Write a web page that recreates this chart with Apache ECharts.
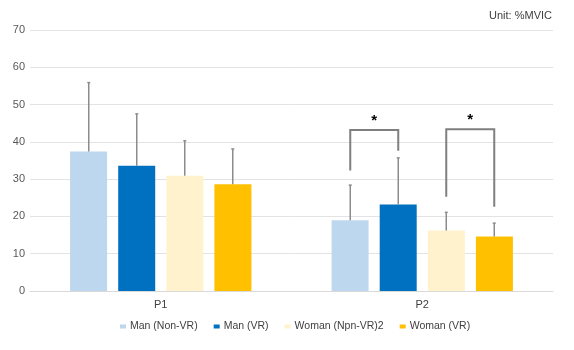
<!DOCTYPE html>
<html>
<head>
<meta charset="utf-8">
<script src="https://cdn.jsdelivr.net/npm/echarts@6/dist/echarts.min.js"></script>
<style>
  html, body { margin: 0; padding: 0; background: #fff; }
  #main { width: 574px; height: 350px; }
</style>
</head>
<body>
<div id="main"></div>
<script>
// data
var categories = ['P1', 'P2'];
var seriesNames = ['Man (Non-VR)', 'Man (VR)', 'Woman (Npn-VR)2', 'Woman (VR)'];
var manNonVR = [37.4, 19.0];
var manVR = [33.6, 23.2];
var womanNonVR = [30.9, 16.2];
var womanVR = [28.6, 14.6];
// upper error (SD)
var errManNonVR = [18.5, 9.4];
var errManVR = [13.9, 12.5];
var errWomanNonVR = [9.4, 4.9];
var errWomanVR = [9.5, 3.6];
// significance brackets: [category, left series, right series, left leg end, right leg end, top]
var brackets = [
  [1, 0, 1, 32.3, 37.6, 43.2],
  [1, 2, 3, 25.3, 22.6, 43.4]
];
var yTicks = { min: 0, max: 70, interval: 10 };

var colors = ['#BDD7EE', '#0070C0', '#FFF2CC', '#FFC000'];
var values = [manNonVR, manVR, womanNonVR, womanVR];
var errs = [errManNonVR, errManVR, errWomanNonVR, errWomanVR];

var BAR_W = 37;
var STEP = 48; // bar width + gap
function offsetOf(s) { return (s - 1.5) * STEP; }

var errData = [];
values.forEach(function (arr, s) {
  arr.forEach(function (v, c) { errData.push([c, v, v + errs[s][c], s]); });
});

var barSeries = seriesNames.map(function (name, i) {
  return {
    name: name,
    type: 'bar',
    data: values[i],
    barWidth: BAR_W,
    barGap: '30%',
    itemStyle: { color: colors[i] },
    silent: true
  };
});

var myChart = echarts.init(document.getElementById('main'));
myChart.setOption({
  animation: false,
  color: colors,
  textStyle: { fontFamily: 'Liberation Sans, Arial, sans-serif' },
  grid: { left: 30, right: 21, top: 30, bottom: 59 },
  graphic: [{
    type: 'text', right: 22, top: 10,
    style: { text: 'Unit: %MVIC', fill: '#404040', font: '11px Liberation Sans, Arial, sans-serif' }
  }],
  legend: {
    data: seriesNames,
    left: 115, top: 316,
    itemWidth: 6, itemHeight: 4, itemGap: 16,
    icon: 'rect',
    textStyle: { color: '#404040', fontSize: 10.5, padding: [0, 0, 0, -1] }
  },
  xAxis: {
    type: 'category',
    data: categories,
    axisLine: { lineStyle: { color: '#d9d9d9' } },
    axisTick: { show: false },
    axisLabel: { color: '#404040', fontSize: 11, margin: 8 }
  },
  yAxis: {
    type: 'value',
    min: yTicks.min, max: yTicks.max, interval: yTicks.interval,
    axisLine: { show: false },
    axisTick: { show: false },
    axisLabel: { color: '#595959', fontSize: 11, margin: 5 },
    splitLine: { lineStyle: { color: '#e3e3e3' } }
  },
  series: barSeries.concat([
    {
      type: 'custom',
      silent: true,
      z: 3,
      data: errData,
      renderItem: function (params, api) {
        var c = api.value(0), s = api.value(3);
        var lo = api.coord([c, api.value(1)]);
        var hi = api.coord([c, api.value(2)]);
        var x = lo[0] + offsetOf(s);
        var st = { stroke: '#8c8c8c', lineWidth: 1.5 };
        return {
          type: 'group',
          children: [
            { type: 'line', shape: { x1: x, y1: lo[1], x2: x, y2: hi[1] }, style: st },
            { type: 'line', shape: { x1: x - 1.5, y1: hi[1], x2: x + 1.5, y2: hi[1] }, style: st }
          ]
        };
      }
    },
    {
      type: 'custom',
      silent: true,
      z: 4,
      data: brackets,
      renderItem: function (params, api) {
        var c = api.value(0);
        var xl = api.coord([c, 0])[0] + offsetOf(api.value(1));
        var xr = api.coord([c, 0])[0] + offsetOf(api.value(2));
        var yl = api.coord([c, api.value(3)])[1];
        var yr = api.coord([c, api.value(4)])[1];
        var yt = api.coord([c, api.value(5)])[1];
        return {
          type: 'group',
          children: [
            {
              type: 'polyline',
              shape: { points: [[xl, yl], [xl, yt], [xr, yt], [xr, yr]] },
              style: { stroke: '#7f7f7f', lineWidth: 2, fill: null }
            },
            {
              type: 'text',
              x: (xl + xr) / 2, y: yt - 9,
              style: {
                text: '*', fill: '#000', align: 'center', verticalAlign: 'middle',
                font: 'bold 15px Liberation Sans, Arial, sans-serif'
              }
            }
          ]
        };
      }
    }
  ])
});
</script>
</body>
</html>
